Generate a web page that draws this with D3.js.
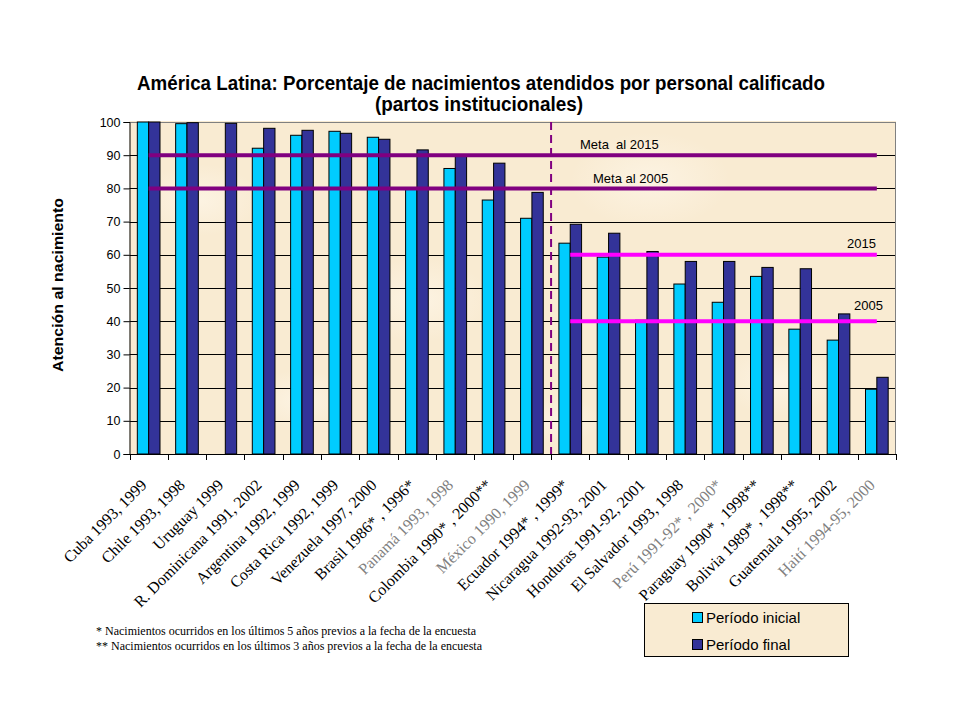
<!DOCTYPE html>
<html><head><meta charset="utf-8">
<script src="https://cdn.jsdelivr.net/npm/d3@7"></script>
<style>
html,body{margin:0;padding:0;background:#fff;}
svg{display:block;}
</style>
</head><body>
<svg id="chart" width="960" height="720"></svg>
<script>
const categories = ["Cuba 1993, 1999","Chile 1993, 1998","Uruguay 1999","R. Dominicana 1991, 2002","Argentina 1992, 1999","Costa Rica 1992, 1999","Venezuela 1997, 2000","Brasil 1986* ,  1996*","Panamá 1993, 1998","Colombia 1990* , 2000**","México 1990, 1999","Ecuador 1994* ,  1999*","Nicaragua 1992-93, 2001","Honduras 1991-92, 2001","El Salvador 1993, 1998","Perú 1991-92* , 2000*","Paraguay 1990* , 1998**","Bolivia 1989* , 1998**","Guatemala 1995, 2002","Haití 1994-95, 2000"];
const grayLabels = ["Panamá 1993, 1998","México 1990, 1999","Perú 1991-92* , 2000*","Haití 1994-95, 2000"];
const inicial = [100, 99.5, null, 92.1, 96.0, 97.2, 95.4, 80.2, 86.0, 76.5, 71.0, 63.5, 59.3, 40.3, 51.2, 45.7, 53.5, 37.6, 34.3, 19.5];
const final   = [100, 99.8, 99.6, 98.1, 97.5, 96.6, 94.8, 91.6, 90.0, 87.6, 78.8, 69.2, 66.5, 61.0, 58.0, 58.0, 56.2, 55.8, 42.2, 23.1];
const seriesNames = ["Período inicial","Período final"];
const yTicks = [0,10,20,30,40,50,60,70,80,90,100];
const metaValues = [90, 80];
const metaLabels = ["Meta  al 2015","Meta al 2005"];
const goalValues = [60, 40];
const goalLabels = ["2015","2005"];
const titleLines = ["América Latina: Porcentaje de nacimientos atendidos por personal calificado","(partos institucionales)"];
const yTitle = "Atención al nacimiento";
const footnotes = ["* Nacimientos ocurridos en los últimos 5 años previos a la fecha de la encuesta","** Nacimientos ocurridos en los últimos 3 años previos a la fecha de la encuesta"];

const svg = d3.select("#chart");
const L = 129.5, R = 896, T = 122, B = 454;
const colors = ["#00CCFF","#333399"];
const parchment = "#F9EBD2";

// texture
const defs = svg.append("defs");
const rg = defs.append("radialGradient").attr("id","spot");
rg.append("stop").attr("offset","0%").attr("stop-color","#FDF5E6").attr("stop-opacity",0.8);
rg.append("stop").attr("offset","100%").attr("stop-color","#FDF5E6").attr("stop-opacity",0);

const x = d3.scaleBand().domain(categories).range([L, R]).paddingInner(0).paddingOuter(0);
const x1 = d3.scaleBand().domain(seriesNames).range([0, x.bandwidth()]).paddingInner(0).paddingOuter(0.69);
const y = d3.scaleLinear().domain([0,100]).range([B, T]);

// plot background
svg.append("rect").attr("x",L).attr("y",T-1).attr("width",R-L).attr("height",B-T+1).attr("fill",parchment);
const spots = [[200,200,60],[420,300,70],[650,180,80],[780,380,60],[300,400,50],[560,420,40]];
svg.append("g").selectAll("ellipse").data(spots).join("ellipse")
  .attr("cx",d=>d[0]).attr("cy",d=>d[1]).attr("rx",d=>d[2]).attr("ry",d=>d[2]*0.6).attr("fill","url(#spot)");

// gridlines
svg.append("g").selectAll("line").data(yTicks.filter(t=>t>0)).join("line")
  .attr("x1",L).attr("x2",R).attr("y1",d=>Math.round(y(d))+0.5).attr("y2",d=>Math.round(y(d))+0.5)
  .attr("stroke",d=>d===100?"#808080":"#000").attr("stroke-width",1);
// right border
svg.append("line").attr("x1",R-0.5).attr("x2",R-0.5).attr("y1",T).attr("y2",B).attr("stroke","#808080");

// bars
const data = categories.map((c,i)=>({c, vals:[inicial[i], final[i]]}));
const g = svg.append("g").selectAll("g").data(data).join("g").attr("transform",d=>`translate(${x(d.c)},0)`);
g.selectAll("rect").data(d=>d.vals.map((v,j)=>({v, s:seriesNames[j], j}))).join("rect")
  .filter(d=>d.v!=null)
  .attr("x",d=>x1(d.s)).attr("width",x1.bandwidth())
  .attr("y",d=>y(d.v)).attr("height",d=>B-y(d.v))
  .attr("fill",d=>colors[d.j]).attr("stroke","#000").attr("stroke-width",1);

// axes
const yAxis = d3.axisLeft(y).tickValues(yTicks).tickSize(6).tickPadding(3);
const ya = svg.append("g").attr("transform",`translate(${L},0)`).call(yAxis);
ya.select(".domain").attr("stroke","#000");
ya.selectAll("text").attr("font-family","Liberation Sans, Arial, sans-serif").attr("font-size",12.5).attr("fill","#000");
const xa = svg.append("g").attr("transform",`translate(0,${B})`);
xa.append("line").attr("x1",L).attr("x2",R).attr("y1",0.5).attr("y2",0.5).attr("stroke","#000");
xa.selectAll("line.tk").data(d3.range(categories.length+1)).join("line").attr("class","tk")
  .attr("x1",i=>Math.round(L+i*x.step())+0.5).attr("x2",i=>Math.round(L+i*x.step())+0.5)
  .attr("y1",0).attr("y2",6).attr("stroke","#000");

// category labels
svg.append("g").selectAll("text").data(categories).join("text")
  .attr("transform",d=>`translate(${x(d)+x.bandwidth()/2-1},${B+32}) rotate(-45)`)
  .attr("text-anchor","end")
  .attr("font-family","Liberation Serif, Times New Roman, serif").attr("font-size",16)
  .attr("fill",d=>grayLabels.includes(d)?"#808080":"#000")
  .text(d=>d);

// meta lines
const metaX1 = x(categories[0])+x.bandwidth()/2, metaX2 = x(categories[categories.length-1])+x.bandwidth()/2;
svg.append("g").selectAll("line").data(metaValues).join("line")
  .attr("x1",metaX1).attr("x2",metaX2).attr("y1",d=>y(d)).attr("y2",d=>y(d))
  .attr("stroke","#800080").attr("stroke-width",4);
const goalX1 = x(categories[11])+x.bandwidth()/2;
svg.append("g").selectAll("line").data(goalValues).join("line")
  .attr("x1",goalX1).attr("x2",metaX2).attr("y1",d=>y(d)).attr("y2",d=>y(d))
  .attr("stroke","#FF00FF").attr("stroke-width",4);
// dashed separator
svg.append("line").attr("x1",x(categories[11])).attr("x2",x(categories[11])).attr("y1",T).attr("y2",B)
  .attr("stroke","#800080").attr("stroke-width",2).attr("stroke-dasharray","8,5");

// line labels
const lf = "Liberation Sans, Arial, sans-serif";
const metaLabelPos = [[580,149],[593,183]];
svg.append("g").selectAll("text").data(metaLabels).join("text")
  .attr("x",(d,i)=>metaLabelPos[i][0]).attr("y",(d,i)=>metaLabelPos[i][1])
  .attr("font-family",lf).attr("font-size",13).attr("fill","#000").attr("xml:space","preserve")
  .style("white-space","pre").text(d=>d);
const goalLabelPos = [[847,248],[854,310]];
svg.append("g").selectAll("text").data(goalLabels).join("text")
  .attr("x",(d,i)=>goalLabelPos[i][0]).attr("y",(d,i)=>goalLabelPos[i][1])
  .attr("font-family",lf).attr("font-size",13).attr("fill","#000").text(d=>d);

// title
svg.append("text").attr("x",481).attr("y",90).attr("text-anchor","middle")
  .attr("font-family",lf).attr("font-weight","bold").attr("font-size",20)
  .attr("textLength",688).attr("lengthAdjust","spacingAndGlyphs").text(titleLines[0]);
svg.append("text").attr("x",479).attr("y",111).attr("text-anchor","middle")
  .attr("font-family",lf).attr("font-weight","bold").attr("font-size",20)
  .attr("textLength",208).attr("lengthAdjust","spacingAndGlyphs").text(titleLines[1]);

// y title
svg.append("text").attr("transform","translate(63,285) rotate(-90)").attr("text-anchor","middle")
  .attr("font-family",lf).attr("font-weight","bold").attr("font-size",14)
  .attr("textLength",174).attr("lengthAdjust","spacingAndGlyphs").text(yTitle);

// footnotes
svg.append("g").selectAll("text").data(footnotes).join("text")
  .attr("x",96).attr("y",(d,i)=>635+i*15)
  .attr("font-family","Liberation Serif, Times New Roman, serif").attr("font-size",12).attr("fill","#000")
  .attr("textLength",(d,i)=>i===0?380:386).attr("lengthAdjust","spacingAndGlyphs")
  .text(d=>d);

// legend
const lg = svg.append("g");
lg.append("rect").attr("x",644.5).attr("y",603.5).attr("width",204).attr("height",53).attr("fill",parchment).attr("stroke","#000");
const le = lg.selectAll("g").data(seriesNames).join("g").attr("transform",(d,i)=>`translate(692,${612+i*27})`);
le.append("rect").attr("x",0.5).attr("y",0.5).attr("width",10).attr("height",10).attr("fill",(d,i)=>colors[i]).attr("stroke","#000");
le.append("text").attr("x",14).attr("y",11).attr("font-family",lf).attr("font-size",15).attr("fill","#000").text(d=>d);
</script>
</body></html>
